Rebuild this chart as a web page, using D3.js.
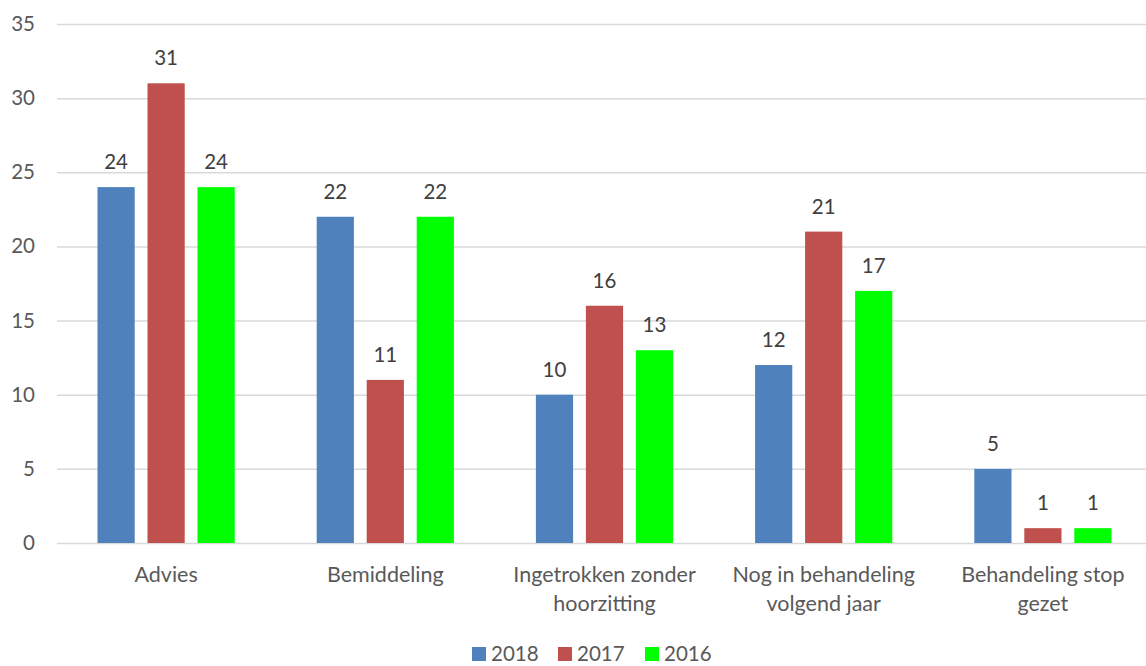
<!DOCTYPE html>
<html><head><meta charset="utf-8">
<script src="https://cdn.jsdelivr.net/npm/d3@7"></script>
<style>body{margin:0;background:#fff;}text{font-family:"Lato","Open Sans",sans-serif;}</style>
</head><body><svg id="c" width="1146" height="666"></svg>
<script>
const categories = [["Advies"],["Bemiddeling"],["Ingetrokken zonder","hoorzitting"],["Nog in behandeling","volgend jaar"],["Behandeling stop","gezet"]];
const seriesNames = ["2018","2017","2016"];
const s2018 = [24,22,10,12,5];
const s2017 = [31,11,16,21,1];
const s2016 = [24,22,13,17,1];
const colors = ["#4F81BD","#C0504D","#00FF00"];
const yTicks = [0,5,10,15,20,25,30,35];

const series = [s2018,s2017,s2016];
const svg = d3.select("#c");
const txt = "#595959";
const fs = 20.5;
const x = d3.scaleBand().domain(d3.range(categories.length)).range([56.5,1152.5]).paddingInner(0.374).paddingOuter(0.187);
const xi = d3.scaleBand().domain(d3.range(3)).range([0,x.bandwidth()]).paddingInner(0.256);
const y = d3.scaleLinear().domain([0,35]).range([543,24]);

svg.append("g").selectAll("line").data(yTicks).join("line")
  .attr("x1",57).attr("x2",1146).attr("y1",d=>y(d)+0.5).attr("y2",d=>y(d)+0.5)
  .attr("stroke","#d9d9d9").attr("stroke-width",1.5);
svg.append("g").selectAll("text").data(yTicks).join("text")
  .attr("x",35).attr("y",d=>y(d)+7).attr("text-anchor","end").attr("fill",txt).attr("font-size",fs).text(d=>d);

series.forEach((s,si)=>{
  const g = svg.append("g");
  g.selectAll("rect").data(s).join("rect")
    .attr("x",(d,i)=>x(i)+xi(si)).attr("width",xi.bandwidth())
    .attr("y",d=>y(d)).attr("height",d=>y(0)-y(d)).attr("fill",colors[si]);
  g.selectAll("text").data(s).join("text")
    .attr("x",(d,i)=>x(i)+xi(si)+xi.bandwidth()/2).attr("y",d=>y(d)-18)
    .attr("text-anchor","middle").attr("fill","#404040").attr("font-size",fs).text(d=>d);
});

const cg = svg.append("g");
categories.forEach((c,i)=>{
  const t = cg.append("text").attr("text-anchor","middle").attr("fill",txt).attr("font-size",21.5)
    .attr("x",x(i)+x.bandwidth()/2).attr("y",582);
  c.forEach((line,k)=>t.append("tspan").attr("x",x(i)+x.bandwidth()/2).attr("dy",k?29:0).text(line));
});

const legX = [472,558,645];
const lg = svg.append("g");
seriesNames.forEach((n,i)=>{
  lg.append("rect").attr("x",legX[i]).attr("y",647).attr("width",14).attr("height",14).attr("fill",colors[i]);
  lg.append("text").attr("x",legX[i]+19).attr("y",661).attr("fill",txt).attr("font-size",fs).text(n);
});
</script></body></html>
